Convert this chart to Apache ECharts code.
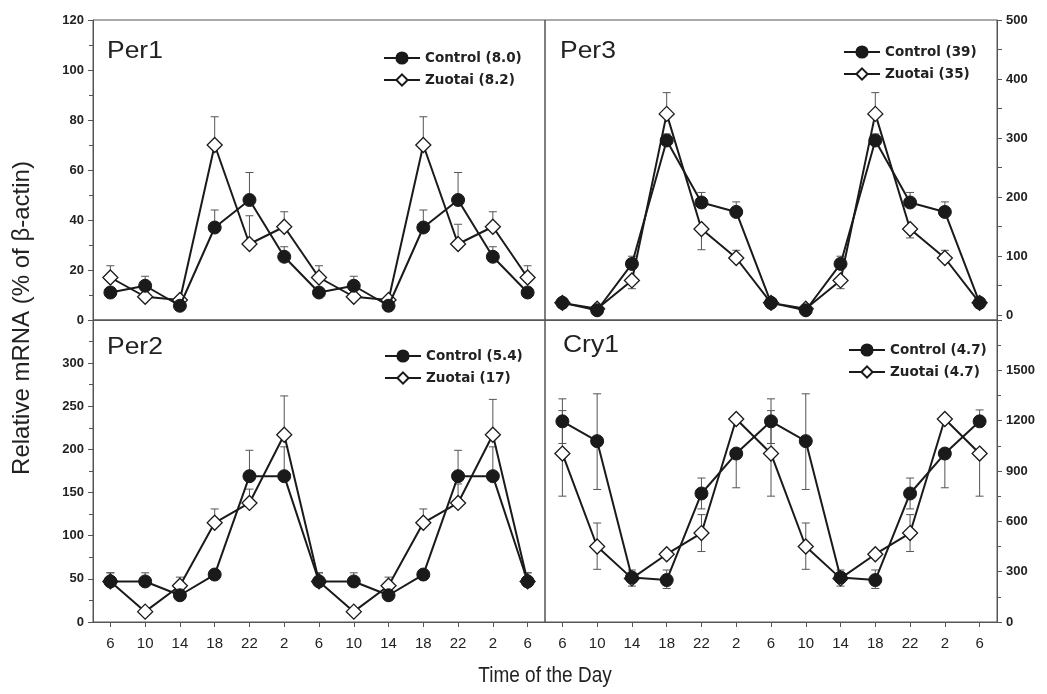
<!DOCTYPE html>
<html>
<head>
<meta charset="utf-8">
<title>Per1 Per2 Per3 Cry1</title>
<script src="https://cdn.jsdelivr.net/npm/echarts@6/dist/echarts.min.js"></script>
<style>
  html, body { margin: 0; padding: 0; background: #fff; }
  #main { width: 1047px; height: 694px; }
</style>
</head>
<body>
<div id="main"></div>
<script>
// time of day (two cycles)
var hours = ['6', '10', '14', '18', '22', '2', '6', '10', '14', '18', '22', '2', '6'];

// Per1 (% of beta-actin)
var per1Ctrl   = [11, 13.7, 5.7, 37, 48, 25.3, 11, 13.7, 5.7, 37, 48, 25.3, 11];
var per1CtrlHi = [null, 17.5, null, 44, 59, 29.3, null, 17.5, null, 44, 59, 29.3, null];
var per1Zuo    = [17, 9.3, 8, 70, 30.4, 37.3, 17, 9.3, 8, 70, 30.4, 37.3, 17];
var per1ZuoHi  = [21.7, null, null, 81.3, 41.7, 43.3, 21.7, null, null, 81.3, 38.3, 43.3, 21.7];

// Per3
var per3Ctrl   = [21, 8.5, 87, 296, 191, 175, 21, 8.5, 87, 296, 191, 175, 21];
var per3CtrlHi = [null, null, 100, 307, 208, 192, null, null, 100, 307, 208, 192, null];
var per3Zuo    = [21, 11, 59, 341, 146, 97, 21, 11, 59, 341, 146, 97, 21];
var per3ZuoHi  = [null, null, null, 377, null, 110, null, null, null, 377, null, 110, null];
var per3ZuoLo  = [null, null, 45, null, 111, null, null, null, 45, null, 131, null, null];

// Per2
var per2Ctrl   = [47, 47, 31, 55, 169, 169, 47, 47, 31, 55, 169, 169, 47];
var per2CtrlHi = [57, 57, null, null, 199, 203, 57, 57, null, null, 199, 203, 57];
var per2Zuo    = [47, 12, 42, 115, 138, 217, 47, 12, 42, 115, 138, 217, 47];
var per2ZuoHi  = [57, null, 52, 131, 154, 262, 57, null, 52, 131, 160, 258, 57];

// Cry1
var cry1Ctrl   = [1196, 1078, 265, 250, 766, 1004, 1196, 1078, 265, 250, 766, 1004, 1196];
var cry1CtrlHi = [1330, 1360, 310, 310, 858, null, 1330, 1360, 310, 310, 858, null, 1264];
var cry1CtrlLo = [1064, 790, 214, 200, 674, 800, 1064, 790, 214, 200, 674, 800, null];
var cry1Zuo    = [1004, 450, 260, 404, 530, 1210, 1004, 450, 260, 404, 530, 1210, 1004];
var cry1ZuoHi  = [1260, 590, null, null, 640, null, 1260, 590, null, null, 640, null, null];
var cry1ZuoLo  = [750, 314, null, null, 420, null, 750, 314, null, null, 420, null, 750];

var ink = '#1a1a1a';
var axisGray = '#555';
var font = '"Liberation Sans", Arial, sans-serif';
var wide = '"DejaVu Sans", "Liberation Sans", sans-serif';
var narrow = '"Liberation Sans Narrow", "Arial Narrow", "Liberation Sans", sans-serif';

var myChart = echarts.init(document.getElementById('main'));

// bar from the point to its cap, with a short cap line
function errItem(params, api) {
    var p0 = api.coord([api.value(0), api.value(1)]);
    var p1 = api.coord([api.value(0), api.value(2)]);
    var w = 4;
    return {
        type: 'group',
        children: [
            { type: 'line', shape: { x1: p0[0], y1: p0[1], x2: p1[0], y2: p1[1] }, style: { stroke: axisGray, lineWidth: 1 } },
            { type: 'line', shape: { x1: p1[0] - w, y1: p1[1], x2: p1[0] + w, y2: p1[1] }, style: { stroke: axisGray, lineWidth: 1 } }
        ]
    };
}

function errData(vals, caps) {
    var out = [];
    for (var i = 0; i < vals.length; i++) {
        if (caps && caps[i] != null) out.push([i, vals[i], caps[i]]);
    }
    return out;
}

var series = [];
function addPanel(idx, ctrlName, zuoName, ctrl, ctrlHi, ctrlLo, zuo, zuoHi, zuoLo) {
    var errs = [].concat(errData(ctrl, ctrlHi), errData(ctrl, ctrlLo), errData(zuo, zuoHi), errData(zuo, zuoLo));
    series.push({
        type: 'custom', xAxisIndex: idx, yAxisIndex: idx, z: 1, silent: true,
        renderItem: errItem, encode: { x: 0, y: 1 }, data: errs
    });
    series.push({
        name: ctrlName, type: 'line', xAxisIndex: idx, yAxisIndex: idx, z: 3,
        data: ctrl, symbol: 'circle', symbolSize: 13,
        lineStyle: { color: ink, width: 2 },
        itemStyle: { color: ink, borderColor: ink, borderWidth: 1 }
    });
    series.push({
        name: zuoName, type: 'line', xAxisIndex: idx, yAxisIndex: idx, z: 2,
        data: zuo, symbol: 'diamond', symbolSize: 15,
        lineStyle: { color: ink, width: 2 },
        itemStyle: { color: '#fff', borderColor: ink, borderWidth: 1.3 }
    });
}

addPanel(0, 'Control (8.0)', 'Zuotai (8.2)', per1Ctrl, per1CtrlHi, null, per1Zuo, per1ZuoHi, null);
addPanel(1, 'Control (39)', 'Zuotai (35)', per3Ctrl, per3CtrlHi, null, per3Zuo, per3ZuoHi, per3ZuoLo);
addPanel(2, 'Control (5.4)', 'Zuotai (17)', per2Ctrl, per2CtrlHi, null, per2Zuo, per2ZuoHi, null);
addPanel(3, 'Control (4.7)', 'Zuotai (4.7)', cry1Ctrl, cry1CtrlHi, cry1CtrlLo, cry1Zuo, cry1ZuoHi, cry1ZuoLo);

var gridBox = { show: true, borderColor: axisGray, borderWidth: 1, backgroundColor: 'transparent' };
var grids = [
    Object.assign({ left: 93, top: 20, width: 452, height: 300 }, gridBox),
    Object.assign({ left: 545, top: 20, width: 452, height: 300 }, gridBox),
    Object.assign({ left: 93, top: 320, width: 452, height: 302 }, gridBox),
    Object.assign({ left: 545, top: 320, width: 452, height: 302 }, gridBox)
];

function xAx(i, bottom) {
    return {
        type: 'category', gridIndex: i, data: hours, boundaryGap: true, position: 'bottom',
        axisLine: { onZero: false, lineStyle: { color: axisGray } },
        axisTick: { show: bottom, alignWithLabel: true, length: 5, lineStyle: { color: axisGray } },
        axisLabel: { show: bottom, margin: 14, color: '#222', fontFamily: narrow, fontSize: 15 },
        splitLine: { show: false }
    };
}

function plain(v) { return String(v); }
var yLabel = { color: '#222', fontFamily: font, fontWeight: 'bold', fontSize: 13, margin: 9, formatter: plain };
function yAx(i, pos, min, max, interval) {
    return {
        type: 'value', gridIndex: i, position: pos, min: min, max: max, interval: interval,
        axisLine: { show: true, lineStyle: { color: axisGray } },
        axisTick: { show: true, length: 5, lineStyle: { color: axisGray } },
        minorTick: { show: true, splitNumber: 2, length: 4, lineStyle: { color: axisGray } },
        axisLabel: Object.assign({}, yLabel),
        splitLine: { show: false }, minorSplitLine: { show: false }
    };
}

var yAxes = [
    yAx(0, 'left', 0, 120, 20),
    {
        type: 'value', gridIndex: 1, position: 'right', min: -8, max: 500,
        axisLine: { show: true, lineStyle: { color: axisGray } },
        axisTick: { show: true, length: 5, lineStyle: { color: axisGray }, customValues: [0, 50, 100, 150, 200, 250, 300, 350, 400, 450, 500] },
        axisLabel: Object.assign({ customValues: [0, 100, 200, 300, 400, 500] }, yLabel),
        splitLine: { show: false }
    },
    yAx(2, 'left', 0, 350, 50),
    yAx(3, 'right', 0, 1800, 300)
];
yAxes[2].axisLabel.showMaxLabel = false;
yAxes[3].axisLabel.showMaxLabel = false;

function legendAt(left, top, names) {
    return {
        data: names, orient: 'vertical', left: left, top: top,
        itemWidth: 36, itemHeight: 14, itemGap: 8, selectedMode: false,
        textStyle: { color: '#222', fontFamily: wide, fontWeight: 'bold', fontSize: 13.5 }
    };
}

function panelTitle(txt, x, y) {
    return { type: 'text', x: x, y: y, scaleX: 1.15, style: { text: txt, fill: '#222', font: '23px ' + font } };
}

option = {
    animation: false,
    backgroundColor: '#fff',
    grid: grids,
    xAxis: [xAx(0, false), xAx(1, false), xAx(2, true), xAx(3, true)],
    yAxis: yAxes,
    legend: [
        legendAt(378, 46, ['Control (8.0)', 'Zuotai (8.2)']),
        legendAt(838, 40, ['Control (39)', 'Zuotai (35)']),
        legendAt(379, 344, ['Control (5.4)', 'Zuotai (17)']),
        legendAt(843, 338, ['Control (4.7)', 'Zuotai (4.7)'])
    ],
    graphic: [
        panelTitle('Per1', 107, 40),
        panelTitle('Per3', 560, 40),
        panelTitle('Per2', 107, 336),
        panelTitle('Cry1', 563, 334),
        {
            type: 'text', x: 22, y: 318, rotation: Math.PI / 2,
            style: { text: 'Relative mRNA (% of β-actin)', fill: '#222', font: '24px ' + font, align: 'center', verticalAlign: 'middle' }
        },
        {
            type: 'text', x: 545, y: 676, scaleY: 1.2,
            style: { text: 'Time of the Day', fill: '#222', font: '19px ' + narrow, align: 'center', verticalAlign: 'middle' }
        }
    ],
    series: series
};
myChart.setOption(option);
</script>
</body>
</html>
